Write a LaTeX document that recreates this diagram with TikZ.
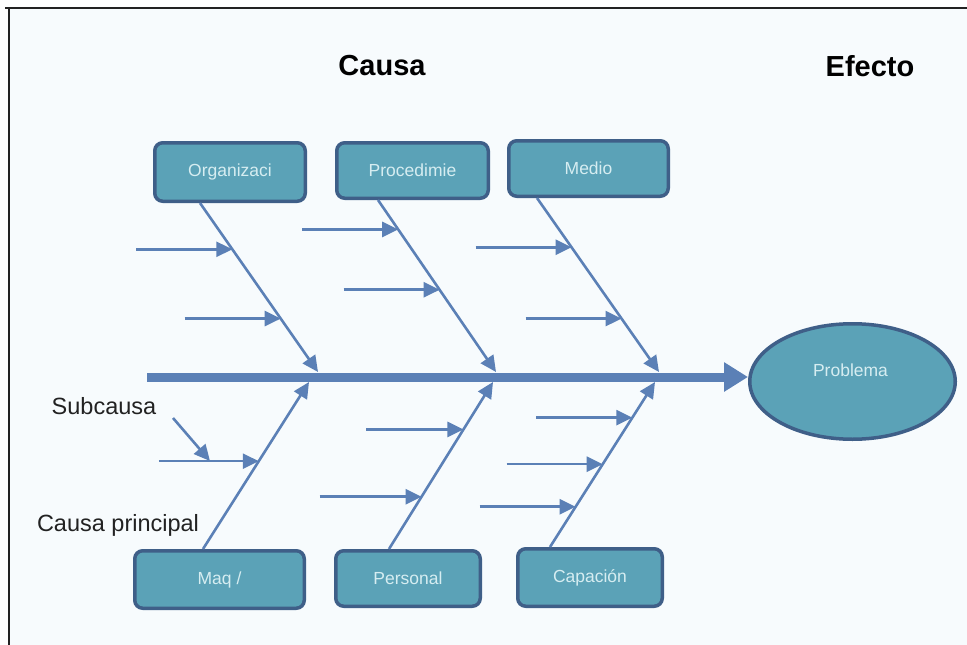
\documentclass[tikz,border=0pt]{standalone}
\usepackage{fontspec}
\setmainfont{Liberation Sans}
\usetikzlibrary{arrows.meta, positioning, calc, shapes.geometric}
\definecolor{boxfill}{HTML}{5BA2B7}
\definecolor{boxline}{HTML}{3F5F88}
\definecolor{boneblue}{HTML}{5B80B6}
\definecolor{labeltext}{HTML}{D6EDF1}
\definecolor{paper}{HTML}{F7FBFD}
\definecolor{ink}{HTML}{222222}

\begin{document}
\begin{tikzpicture}[x=1pt, y=-1pt,
  cause/.style={draw=boxline, line width=3.5pt, fill=boxfill, rounded corners=8pt,
    text=labeltext, font=\fontsize{17.5}{20}\selectfont, inner sep=0pt},
  bone/.style={draw=boneblue, line width=2.6pt, -{Triangle[length=16pt,width=15pt]}},
  sub/.style={bone},
  title/.style={font=\fontsize{29}{34}\selectfont\bfseries, text=black},
  note/.style={font=\fontsize{23.5}{28}\selectfont, text=ink}]
% Page and frame
\useasboundingbox (0,0) rectangle (967,645);
\fill[white] (0,0) rectangle (967,645);
\fill[paper] (9,8) rectangle (967,645);
\draw[ink, line width=2pt] (5,8) -- (967,8);
\draw[ink, line width=2pt] (9,8) -- (9,645);
%
% Headings
\node[title] (causa) at (382,66) {Causa};
\node[title] (efecto) at (870,66) {Efecto};
%
% Effect
\node[ellipse, draw=boxline, line width=3.5pt, fill=boxfill, minimum width=205.5pt, minimum height=115.5pt, inner sep=0pt] (prob) at (852.5,381.5) {};
\node[text=labeltext, font=\fontsize{17.5}{20}\selectfont] (probtxt) at ([xshift=-2pt, yshift=11pt]prob.center) {Problema};
%
% Spine
\coordinate (sp0) at (147,377);
\draw[boneblue, line width=9pt, -{Triangle[length=24pt,width=28pt]}] (sp0) -- (sp0 -| prob.west);
%
% Top row of main causes
\node[cause, minimum width=150.5pt, minimum height=58.5pt] (org) at (230,172) {Organizaci};
\node[cause, minimum width=151.5pt, minimum height=55.5pt] (proc) at (412.5,170.5) {Procedimie};
\node[cause, minimum width=159.5pt, minimum height=55.5pt] (medio) at (588.5,168.5) {Medio};
%
% Bottom row of main causes
\node[cause, minimum width=169.5pt, minimum height=57.5pt] (maq) at (219.5,579.5) {Maq /};
\node[cause, minimum width=144.5pt, minimum height=55.5pt] (pers) at (408,578.5) {Personal};
\node[cause, minimum width=144.5pt, minimum height=57.5pt] (cap) at (590,577.5) {Capación};
%
% Bones: box to spine
\coordinate (org-b) at ([xshift=-30pt]org.south);
\coordinate (proc-b) at ([xshift=-34.5pt]proc.south);
\coordinate (medio-b) at ([xshift=-51.5pt]medio.south);
\coordinate (maq-b) at ([xshift=-16.5pt]maq.north);
\coordinate (pers-b) at ([xshift=-19pt]pers.north);
\coordinate (cap-b) at ([xshift=-40pt]cap.north);
\coordinate (s1) at (318,372);
\coordinate (s2) at (496,372);
\coordinate (s3) at (659,372);
\coordinate (s4) at (309,382);
\coordinate (s5) at (493,382);
\coordinate (s6) at (655,382);
\draw[bone] (org-b) -- (s1);
\draw[bone] (proc-b) -- (s2);
\draw[bone] (medio-b) -- (s3);
\draw[bone] (maq-b) -- (s4);
\draw[bone] (pers-b) -- (s5);
\draw[bone] (cap-b) -- (s6);
%
% Subcauses on each bone
\coordinate (o1) at ($(org-b)!0.274!(s1)$);
\coordinate (o2) at ($(org-b)!0.684!(s1)$);
\coordinate (p1) at ($(proc-b)!0.171!(s2)$);
\coordinate (p2) at ($(proc-b)!0.522!(s2)$);
\coordinate (m1) at ($(medio-b)!0.283!(s3)$);
\coordinate (m2) at ($(medio-b)!0.693!(s3)$);
\coordinate (q1) at ($(maq-b)!0.526!(s4)$);
\coordinate (e1) at ($(pers-b)!0.716!(s5)$);
\coordinate (e2) at ($(pers-b)!0.313!(s5)$);
\coordinate (c1) at ($(cap-b)!0.784!(s6)$);
\coordinate (c2) at ($(cap-b)!0.502!(s6)$);
\coordinate (c3) at ($(cap-b)!0.244!(s6)$);
\draw[sub] ([xshift=-96pt]o1) -- (o1);
\draw[sub] ([xshift=-96pt]o2) -- (o2);
\draw[sub] ([xshift=-96pt]p1) -- (p1);
\draw[sub] ([xshift=-96pt]p2) -- (p2);
\draw[sub] ([xshift=-96pt]m1) -- (m1);
\draw[sub] ([xshift=-96pt]m2) -- (m2);
\draw[sub] ([xshift=-100pt]q1) -- (q1);
\draw[sub] ([xshift=-97pt]e1) -- (e1);
\draw[sub] ([xshift=-102pt]e2) -- (e2);
\draw[sub] ([xshift=-96pt]c1) -- (c1);
\draw[sub] ([xshift=-96pt]c2) -- (c2);
\draw[sub] ([xshift=-96pt]c3) -- (c3);
%
% Legend labels
\node[note] (subcausa) at (104,406) {Subcausa};
\node[note] (principal) at (118,525) {Causa principal};
\coordinate (subtail) at (173,418);
\coordinate (subtip) at (210,461);
\draw[sub] (subtail) -- (subtip);
%
\end{tikzpicture}
\end{document}
